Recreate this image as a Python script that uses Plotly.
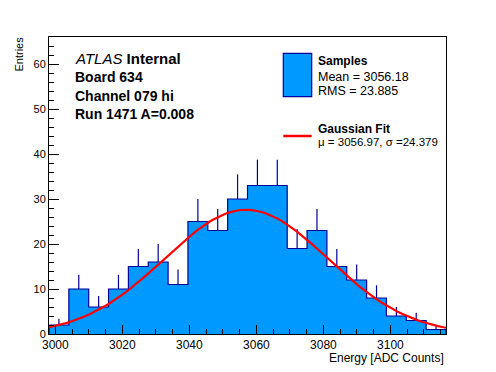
import numpy as np
import plotly.graph_objects as go

# ---- data ----
bin_low = 2998.1
bin_width = 5.925
counts = [2, 10, 6, 10, 15, 16, 11, 25, 23, 30,
          33, 33, 19, 23, 15, 12, 8, 4, 3, 1]
fit_mu = 3056.97
fit_sigma = 24.379
fit_amp = 27.6
x_ticks = [3000, 3020, 3040, 3060, 3080, 3100]
y_ticks = [0, 10, 20, 30, 40, 50, 60]
sample_mean = "3056.18"
sample_rms = "23.885"

FONT = "Liberation Sans, Arial, Helvetica, sans-serif"
FILL = "#0099ff"
EDGE = "#000099"

n = len(counts)
edges = bin_low + bin_width * np.arange(n + 1)
centers = 0.5 * (edges[:-1] + edges[1:])
x_hi = edges[-1]

# step outline with fill
sx = [edges[0]] + list(edges) + [edges[-1]]
sy = [0] + list(counts) + [counts[-1], 0]

fig = go.Figure()
fig.add_trace(go.Scatter(
    x=sx, y=sy, mode="lines", line=dict(color=EDGE, width=1.2, shape="hv"),
    fill="tozeroy", fillcolor=FILL, hoverinfo="skip", showlegend=False))

err = np.sqrt(np.array(counts, dtype=float))
fig.add_trace(go.Scatter(
    x=centers, y=counts, mode="markers", marker=dict(size=0.1, color=EDGE),
    error_y=dict(type="data", symmetric=False, array=err,
                 arrayminus=np.zeros(n), width=0, color=EDGE, thickness=1.2),
    showlegend=False, hoverinfo="skip"))

gx = np.linspace(edges[0], x_hi, 100)
gy = fit_amp * np.exp(-0.5 * ((gx - fit_mu) / fit_sigma) ** 2)
fig.add_trace(go.Scatter(x=gx, y=gy, mode="lines",
                         line=dict(color="#ff0000", width=2.2),
                         showlegend=False, hoverinfo="skip"))

# geometry helpers (pixel -> paper)
L, R, T, B = 49, 446, 37, 334
W, H = R - L, B - T
def px(x):
    return (x - L) / W
def py(y):
    return (B - y) / H

ann = []
def text(x, y, s, size, xanchor="left", yanchor="middle", angle=0):
    ann.append(dict(x=px(x), y=py(y), xref="paper", yref="paper", text=s,
                    showarrow=False, xanchor=xanchor, yanchor=yanchor,
                    textangle=angle,
                    font=dict(family=FONT, size=size, color="black")))

text(73, 58, "<i>ATLAS</i> <b>Internal</b>", 15)
text(73, 77, "<b>Board 634</b>", 14)
text(73, 95.5, "<b>Channel 079 hi</b>", 14)
text(73, 114, "<b>Run 1471 A=0.008</b>", 14)

text(315.5, 61, "<b>Samples</b>", 12)
text(315.5, 76.7, "Mean = " + sample_mean, 12.5)
text(315.5, 90.7, "RMS = " + sample_rms, 12.5)
text(315.5, 129, "<b>Gaussian Fit</b>", 12)
text(315.5, 142, "\u03bc = %.2f, \u03c3 =%.3f" % (fit_mu, fit_sigma), 11.5)

text(446, 358.5, "Energy [ADC Counts]", 12, xanchor="right")
text(19, 34, "Entries", 11, xanchor="center", yanchor="top", angle=-90)

shapes = [
    dict(type="rect", xref="paper", yref="paper",
         x0=px(283.3), x1=px(311.7), y0=py(96.7), y1=py(53.3),
         fillcolor=FILL, line=dict(color=EDGE, width=1.2)),
    dict(type="line", xref="paper", yref="paper",
         x0=px(283.3), x1=px(311.7), y0=py(136), y1=py(136),
         line=dict(color="#ff0000", width=2.5)),
]

fig.update_layout(
    width=496, height=372,
    margin=dict(l=L, r=496 - R, t=T, b=372 - B),
    paper_bgcolor="white", plot_bgcolor="white",
    font=dict(family=FONT, color="black"),
    showlegend=False,
    annotations=ann, shapes=shapes,
    xaxis=dict(range=[edges[0], x_hi], tickmode="array", tickvals=x_ticks,
               ticktext=[str(v) for v in x_ticks],
               ticks="inside", ticklen=9, tickwidth=1, tickcolor="black",
               minor=dict(dtick=5, tick0=3000, ticks="inside", ticklen=5,
                          tickcolor="black", tickwidth=1),
               showline=True, linecolor="black", linewidth=1, mirror=True,
               showgrid=False, zeroline=False,
               tickfont=dict(size=12, family=FONT, color="black")),
    yaxis=dict(range=[0, 66], tickmode="array", tickvals=y_ticks,
               ticktext=[str(v) for v in y_ticks],
               ticks="inside", ticklen=10, tickwidth=1, tickcolor="black",
               minor=dict(dtick=2, tick0=0, ticks="inside", ticklen=5,
                          tickcolor="black", tickwidth=1),
               showline=True, linecolor="black", linewidth=1, mirror=True,
               showgrid=False, zeroline=False,
               tickfont=dict(size=11, family=FONT, color="black")),
)

fig.write_html("out.html",
               config={"displayModeBar": False, "staticPlot": True},
               post_script="document.body.style.margin='0';"
                           "document.body.style.overflow='hidden';")
